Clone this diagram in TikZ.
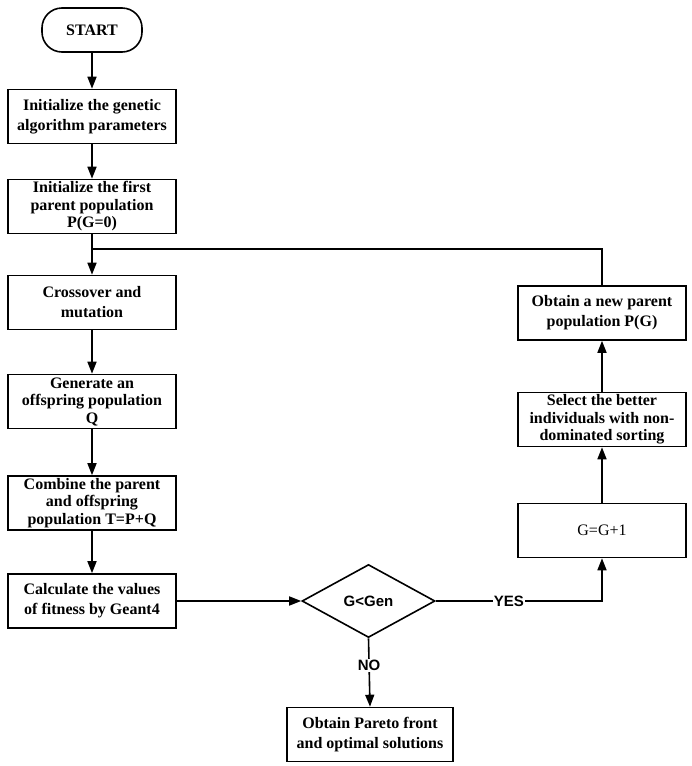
\documentclass[tikz,border=0pt]{standalone}
\usepackage{fontspec}
\setmainfont{Liberation Serif}
\newfontfamily\labelfont{Liberation Sans}
\usetikzlibrary{arrows.meta,shapes.geometric}
\begin{document}
\begin{tikzpicture}[x=1pt,y=-1pt,
  box/.style={draw,line width=1.6pt,minimum width=168pt,minimum height=54pt,align=center,
    font=\fontsize{16}{20}\selectfont\bfseries,inner sep=1pt},
  tight/.style={font=\fontsize{16}{17.5}\selectfont\bfseries,inner sep=0pt},
  arr/.style={line width=1.6pt,-{Triangle[length=12pt,width=9pt]}},
  ln/.style={line width=1.6pt},
  lbl/.style={font=\labelfont\fontsize{15}{17}\selectfont\bfseries,fill=white,inner sep=1pt}]
\useasboundingbox (0,0) rectangle (692,766);
\node[draw,line width=1.6pt,rounded corners=20pt,minimum width=100pt,minimum height=44pt,
  font=\fontsize{16}{20}\selectfont\bfseries] (start) at (92,30) {START};
\node[box] (b1) at (92,116.5) {Initialize the genetic\\algorithm parameters};
\node[box,tight] (b2) at (92,206.5) {Initialize the first\\parent population\\P(G=0)};
\node[box] (b3) at (92,302.5) {Crossover and\\mutation};
\node[box,tight] (b4) at (92,401.5) {Generate an\\offspring population\\Q};
\node[box,tight] (b5) at (92,503) {Combine the parent\\and offspring\\population T=P+Q};
\node[box] (b6) at (92,601) {Calculate the values\\of fitness by Geant4};
\node[draw,line width=1.6pt,diamond,aspect=1.8,minimum width=133pt,minimum height=73pt,inner sep=0pt,
  font=\labelfont\fontsize{15}{17}\selectfont\bfseries] (dia) at (368.5,601) {G<Gen};
\node[box,minimum width=166pt] (par) at (370,734.5) {Obtain Pareto front\\and optimal solutions};
\node[box] (gg) at (602,530.5) {\mdseries G=G+1};
\node[box,tight] (sel) at (602,419.5) {Select the better\\individuals with non-\\dominated sorting};
\node[box] (np) at (602,313) {Obtain a new parent\\population P(G)};
\coordinate (j) at (92,249);
\draw[arr] (start) -- (b1);
\draw[arr] (b1) -- (b2);
\draw[arr] (b2) -- (b3);
\draw[arr] (b3) -- (b4);
\draw[arr] (b4) -- (b5);
\draw[arr] (b5) -- (b6);
\draw[arr] (b6) -- (dia);
\draw[arr] (dia.east) -| node[lbl,pos=0.22] {YES} (gg.south);
\draw[arr] (dia.south) -- node[lbl,pos=0.4] {NO} (par.north);
\draw[arr] (gg) -- (sel);
\draw[arr] (sel) -- (np);
\draw[ln] (np.north) |- (j);
\end{tikzpicture}
\end{document}
